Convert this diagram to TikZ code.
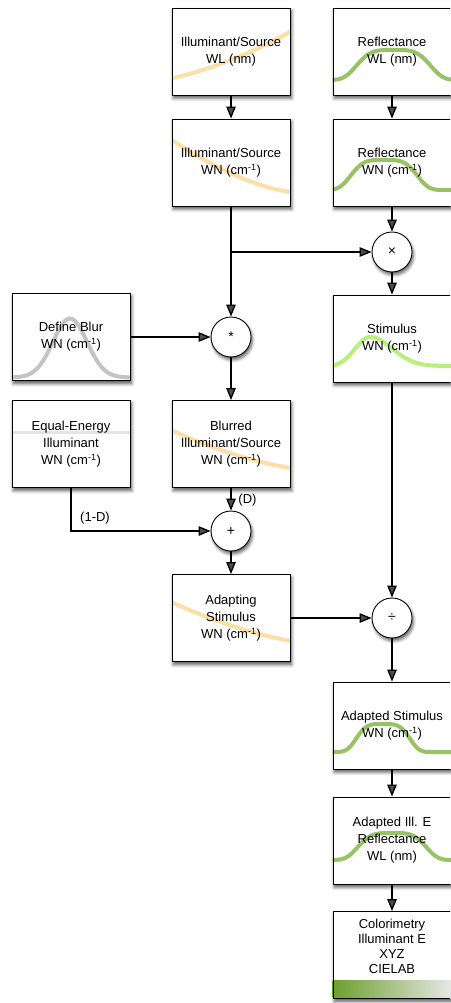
\documentclass[tikz,border=0pt]{standalone}
\usepackage{fontspec}
\setmainfont{Liberation Sans}
\usetikzlibrary{arrows.meta,shadows.blur}
\pgfdeclarelayer{background}
\pgfsetlayers{background,main}
\definecolor{illumc}{HTML}{FCDFA6}
\definecolor{reflc}{HTML}{99C266}
\definecolor{stimc}{HTML}{B8F07B}
\definecolor{blurc}{HTML}{C4C4C4}
\definecolor{eec}{HTML}{E4E4E4}
\definecolor{gradgreen}{HTML}{6C9E2B}
\definecolor{gradgray}{HTML}{E8E8E6}
\tikzset{
  shad/.style={blur shadow={shadow xshift=1.5pt, shadow yshift=-3pt, shadow blur radius=3pt, shadow opacity=60}},
  box/.style={draw=black, line width=0.9pt, minimum width=118pt, minimum height=87pt,
    inner sep=0pt, align=center, font=\fontsize{13}{17}\selectfont},
  boxfill/.style={shad, fill=white},
  op/.style={shad, circle, draw=black, line width=0.9pt, fill=white, minimum size=40pt, inner sep=0pt,
    font=\fontsize{14}{16}\selectfont},
  arr/.style={line width=1.3pt, -{Triangle[length=12pt,width=9.5pt]}},
  lbl/.style={inner sep=0pt, font=\fontsize{13}{15}\selectfont},
  wave/.style={line width=4pt},
  declare function={sg(\t,\c,\w)=exp(-(((\t-\c)/\w)*((\t-\c)/\w))*(((\t-\c)/\w)*((\t-\c)/\w)));
                    gs(\t,\c,\s)=exp(-((\t-\c)/\s)*((\t-\c)/\s)/2);}
}
\newcommand\boxback[1]{\fill[boxfill] (#1.south west) rectangle (#1.north east);}
\newcommand\boxcurve[2]{\begin{scope}\clip (#1.south west) rectangle (#1.north east);
  \begin{scope}[shift={(#1.center)}]#2\end{scope}\end{scope}}
\begin{document}
\begin{tikzpicture}[x=1pt,y=-1pt]
\path[use as bounding box] (0,0) rectangle (450,1003);
\clip (0,0) rectangle (450,1003);

\node[box] (iwl) at (231,51.5) {Illuminant/Source\\WL (nm)};
\node[box] (rwl) at (392,51.5) {Reflectance\\WL (nm)};
\node[box] (iwn) at (231,162.5) {Illuminant/Source\\WN (cm\textsuperscript{-1})};
\node[box] (rwn) at (392,162.5) {Reflectance\\WN (cm\textsuperscript{-1})};
\node[op] (times) at (392,252) {×};
\node[op] (star) at (231,337) {*};
\node[box] (blur) at (71,337) {Define Blur\\WN (cm\textsuperscript{-1})};
\node[box] (stim) at (392,338.5) {Stimulus\\WN (cm\textsuperscript{-1})};
\node[box] (equal) at (71,444) {Equal-Energy\\Illuminant\\WN (cm\textsuperscript{-1})};
\node[box] (blurred) at (231,444) {Blurred\\Illuminant/Source\\WN (cm\textsuperscript{-1})};
\node[op] (plus) at (231,531) {+};
\node[box] (adapting) at (231,618) {Adapting\\Stimulus\\WN (cm\textsuperscript{-1})};
\node[op] (div) at (392,618) {÷};
\node[box] (adst) at (392,725.5) {Adapted Stimulus\\WN (cm\textsuperscript{-1})};
\node[box] (adill) at (392,840.5) {Adapted Ill. E\\Reflectance\\WL (nm)};
\node[box, font=\fontsize{13}{15}\selectfont] (color) at (392,955) {Colorimetry\\Illuminant E\\XYZ\\CIELAB\\[3pt]\mbox{}};

\begin{pgfonlayer}{background}
\foreach \b in {iwl,rwl,iwn,rwn,blur,stim,equal,blurred,adapting,adst,adill,color}{\boxback{\b}}
\boxcurve{iwl}{\draw[wave, illumc] (-60,27) .. controls (-20,18) and (20,2) .. (60,-20);}
\boxcurve{rwl}{\draw[wave, reflc] plot[domain=-62:62, samples=90, smooth] (\x,{28.5-30*sg(\x,1.5,40)});}
\boxcurve{iwn}{\draw[wave, illumc] (-60,-23) .. controls (-30,-3) and (20,25) .. (60,29.5);}
\boxcurve{rwn}{\draw[wave, reflc] plot[domain=-62:62, samples=90, smooth] (\x,{27.5-30*sg(\x,-8,36)});}
\boxcurve{blur}{\draw[wave, blurc] plot[domain=-62:62, samples=90, smooth] (\x,{40.5-59*gs(\x,-1,17)});}
\boxcurve{stim}{\draw[wave, stimc] plot[domain=-62:-22, samples=40, smooth] (\x,{28.5-30*gs(\x,-22,15)})
    -- plot[domain=-22:62, samples=70, smooth] (\x,{27.5-29*gs(\x,-22,22)});}
\boxcurve{equal}{\draw[line width=3pt, eec] (-62,-12) -- (62,-12);}
\boxcurve{blurred}{\draw[wave, illumc] (-60,-14) .. controls (-25,2) and (20,18) .. (60,24);}
\boxcurve{adapting}{\draw[wave, illumc] (-60,-16) .. controls (-25,0) and (20,16) .. (60,23);}
\boxcurve{adst}{\draw[wave, reflc] plot[domain=-62:62, samples=90, smooth] (\x,{26.5-28*sg(\x,-9,29)});}
\boxcurve{adill}{\draw[wave, reflc] plot[domain=-62:62, samples=90, smooth] (\x,{19.5-27*sg(\x,0,37)});}
\boxcurve{color}{\shade[left color=gradgreen, right color=gradgray] (-60,25) rectangle (60,42.5);}
\end{pgfonlayer}

\node[lbl] (dlbl) at (247.5,500) {(D)};
\node[lbl] (omd) at (95,518) {(1-D)};

\coordinate (j) at (iwn.south |- times.west);
\coordinate (ec) at (equal.south |- plus.west);

\draw[arr] (iwl) -- (iwn);
\draw[arr] (rwl) -- (rwn);
\draw[arr] (rwn) -- (times);
\draw[arr] (iwn) -- (star);
\draw[arr] (j) -- (times);
\draw[arr] (times) -- (stim);
\draw[arr] (blur) -- (star);
\draw[arr] (star) -- (blurred);
\draw[arr] (blurred) -- (plus);
\draw[arr] (equal.south) -- (ec) -- (plus.west);
\draw[arr] (plus) -- (adapting);
\draw[arr] (adapting) -- (div);
\draw[arr] (stim) -- (div);
\draw[arr] (div) -- (adst);
\draw[arr] (adst) -- (adill);
\draw[arr] (adill) -- (color);
\end{tikzpicture}
\end{document}
